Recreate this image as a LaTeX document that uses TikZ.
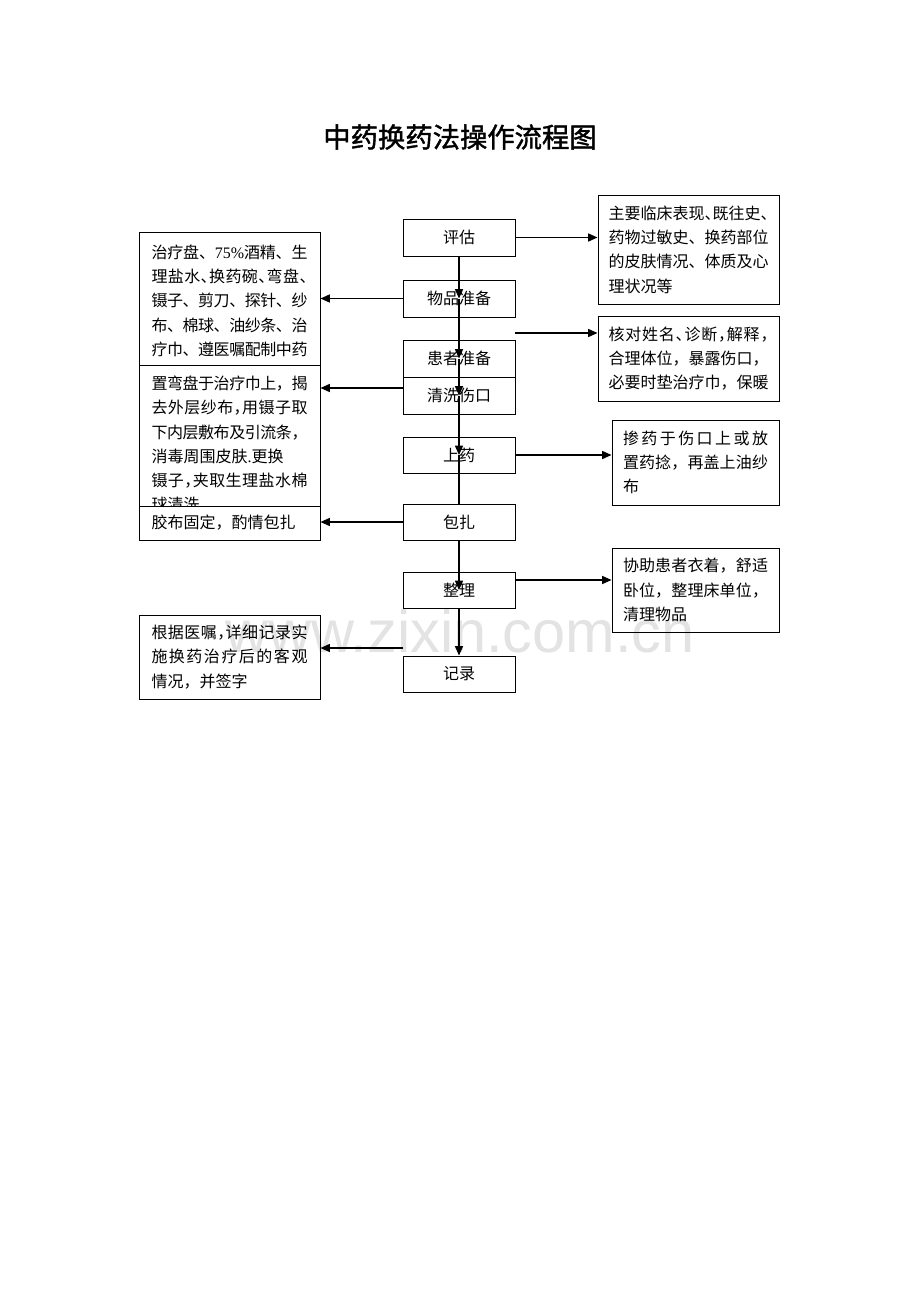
\documentclass[tikz,border=0pt]{standalone}
\usepackage{fontspec}
\setmainfont[AutoFakeBold=1.5]{Noto Sans CJK SC}
\newfontfamily\lser{Liberation Serif}
\newfontfamily\lsans{Liberation Sans}
\usetikzlibrary{arrows.meta,calc}
\newlength\pu \setlength\pu{0.75pt}
\newcommand\dun{\makebox[0.5em][l]{、}}
\newcommand\dou{\makebox[0.5em][l]{，}}
\def\sev{{\lser 75\%}}
\def\jlfirst#1{#1\jlrest}
\def\jlrest#1{\ifx\relax#1\else\hskip 0pt plus 1fil minus 1fil\relax #1\expandafter\jlrest\fi}
\newcommand\jl[1]{\makebox[\linewidth][s]{\jlfirst#1\relax}}
\tikzset{
 box/.style={draw=black, line width=0.75pt, inner sep=0pt, font=\fontsize{12pt}{18.2pt}\selectfont},
 cbox/.style={box, minimum width=84pt, minimum height=27.75pt},
 arr/.style={line width=1.1pt, -{Triangle[length=7pt,width=6pt]}},
 ln/.style={line width=1.1pt},
}
\begin{document}
\begin{tikzpicture}[x=0.75pt,y=-0.75pt]
\useasboundingbox[fill=white] (0,0) rectangle (920,1302);
% watermark
\node[anchor=base, text=black!11, font=\lsans\fontsize{44.6pt}{50pt}\selectfont, inner sep=0pt] (wm) at (460,652) {www.zixin.com.cn};
% title
\node[font=\bfseries\fontsize{20.5pt}{24pt}\selectfont, inner sep=0pt] (title) at (460,137) {中药换药法操作流程图};
% centre boxes
\node[cbox] (pg) at (459,237.5) {评估};
\node[cbox] (wp) at (459,298.5) {物品准备};
\node[cbox] (hz) at (459,358.5) {患者准备};
\node[cbox, fill=white] (qx) at (459,395.5) {清洗伤口};
\node[cbox, minimum height=27pt] (sy) at (459,455) {上药};
\node[cbox, minimum height=27pt] (bz) at (459,522) {包扎};
\node[cbox, minimum height=27pt] (zl) at (459,590) {整理};
\node[cbox, minimum height=27pt] (jl) at (459,674) {记录};
% right boxes
\node[box, minimum width=181\pu, minimum height=109\pu] (R1) at (688.5,249.5) {\parbox{160\pu}{\jl{主要临床表现\dun 既往史\dun}\\\jl{药物过敏史、换药部位}\\\jl{的皮肤情况、体质及心}\\理状况等}};
\node[box, minimum width=181\pu, minimum height=85\pu] (R2) at (688.5,358.5) {\parbox{160\pu}{\jl{核对姓名\dun 诊断\dou 解释\dou}\\\jl{合理体位，暴露伤口，}\\\jl{必要时垫治疗巾，保暖}}};
\node[box, minimum width=167\pu, minimum height=85\pu] (R3) at (695.5,462.5) {\parbox{145\pu}{\jl{掺药于伤口上或放}\\\jl{置药捻，再盖上油纱}\\布}};
\node[box, minimum width=167\pu, minimum height=84\pu] (R4) at (695.5,590) {\parbox{145\pu}{\jl{协助患者衣着，舒适}\\\jl{卧位，整理床单位，}\\清理物品}};
% left boxes
\node[box, fill=white, minimum width=181\pu, minimum height=162\pu] (L1) at (229.5,313) {\parbox{156\pu}{\jl{治疗盘、\sev 酒精、生}\\\jl{理盐水\dun 换药碗\dun 弯盘\dun}\\\jl{镊子、剪刀、探针、纱}\\\jl{布、棉球、油纱条、治}\\\jl{疗巾、遵医嘱配制中药}\\\jl{液、外敷药物、胶布等}}};
\node[box, fill=white, minimum width=181\pu, minimum height=158\pu] (L2) at (229.5,444) {\parbox{156\pu}{\jl{置弯盘于治疗巾上，揭}\\\jl{去外层纱布\dou 用镊子取}\\\jl{下内层敷布及引流条，}\\消毒周围皮肤{\lser .}更换\\\jl{镊子\dou 夹取生理盐水棉}\\球清洗}};
\node[box, fill=white, minimum width=181\pu, minimum height=34\pu] (L3) at (229.5,523) {\parbox{156\pu}{胶布固定，酌情包扎}};
\node[box, minimum width=181\pu, minimum height=84\pu] (L4) at (229.5,657) {\parbox{156\pu}{\jl{根据医嘱\dou 详细记录实}\\\jl{施换药治疗后的客观}\\情况，并签字}};
% free ends
\coordinate (c2) at (515,333);
\coordinate (c4) at (403,648);
\coordinate (c3) at (515,580);
\coordinate (c1) at (403,388);
% vertical flow
\draw[arr] (pg.south) -- (wp.center);
\draw[arr] (wp.center) -- (hz.center);
\draw[arr] (hz.center) -- (qx.center);
\draw[arr] (qx.center) -- (sy.center);
\draw[ln] (sy.center) -- (bz.north);
\draw[arr] (bz.south) -- (zl.center);
\draw[arr] (zl.south) -- (jl.north);
% right arrows
\draw[arr] (pg.east) -- (pg.east -| R1.west);
\draw[arr] (c2) -- (c2 -| R2.west);
\draw[arr] (sy.east) -- (sy.east -| R3.west);
\draw[arr] (c3) -- (c3 -| R4.west);
% left arrows
\draw[arr] (wp.west) -- (wp.west -| L1.east);
\draw[arr] (c1) -- (c1 -| L2.east);
\draw[arr] (bz.west) -- (bz.west -| L3.east);
\draw[arr] (c4) -- (c4 -| L4.east);
\end{tikzpicture}
\end{document}
